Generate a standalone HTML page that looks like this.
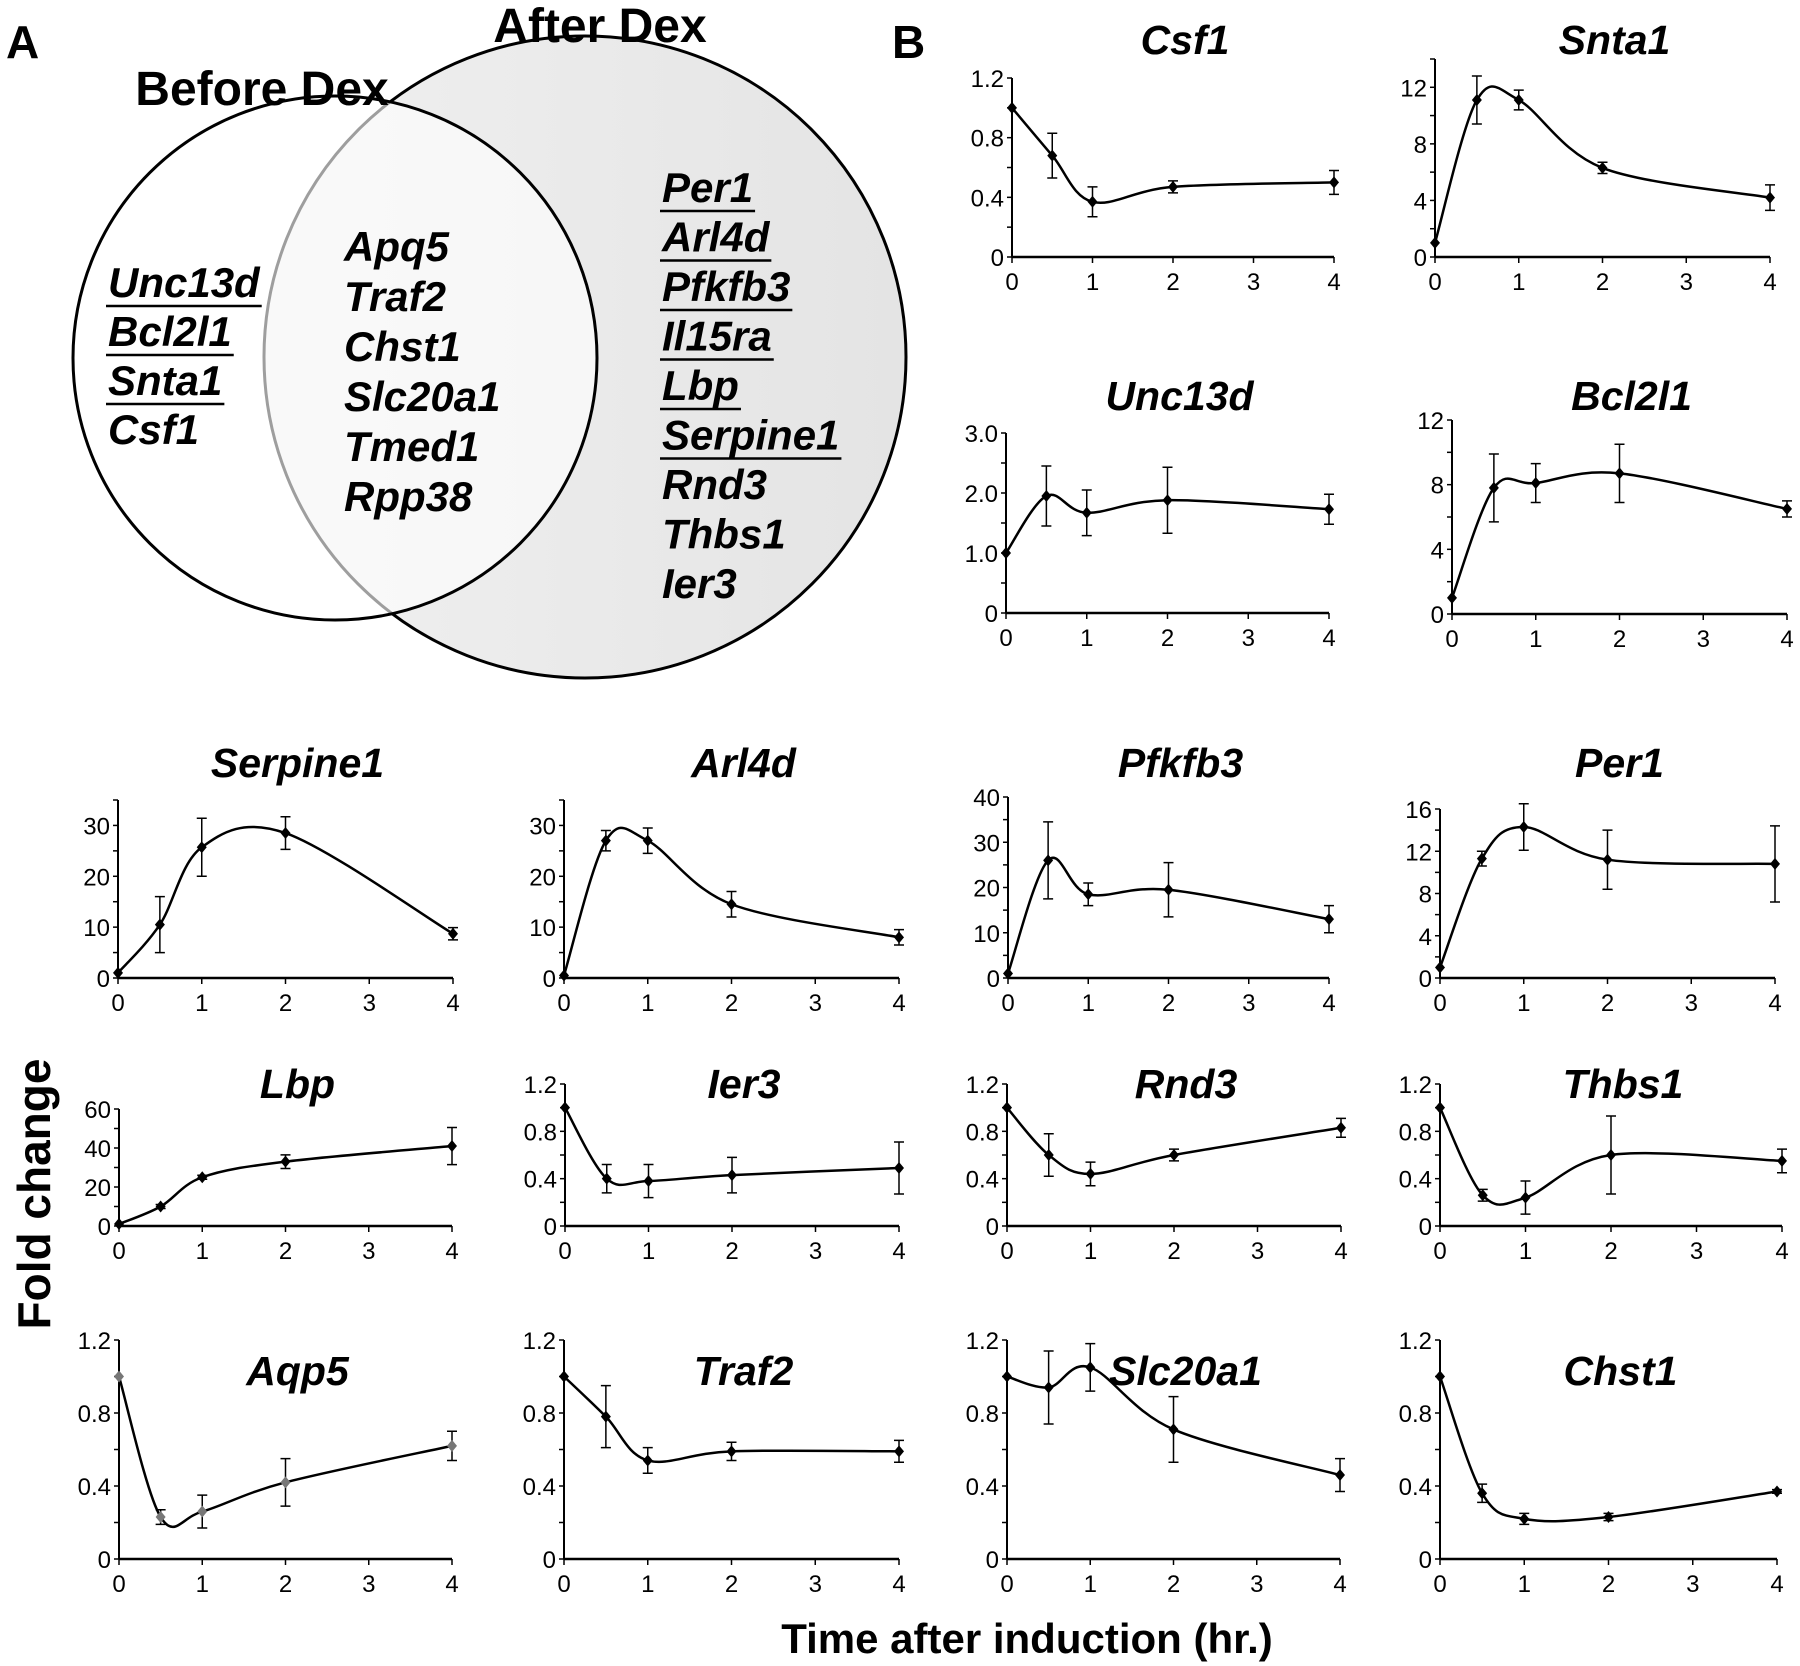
<!DOCTYPE html>
<html><head><meta charset="utf-8">
<style>
html,body{margin:0;padding:0;background:#fff;}
svg{display:block;}
text{font-family:"Liberation Sans",Arial,sans-serif;}
.t{font-weight:bold;font-style:italic;font-size:41px;}
.g{font-weight:bold;font-style:italic;font-size:42px;}
.tk{font-size:24px;}
</style></head>
<body>
<svg id="fig" width="1800" height="1666" viewBox="0 0 1800 1666" xmlns="http://www.w3.org/2000/svg">
<defs>
<linearGradient id="rg" x1="0" y1="0" x2="1" y2="0">
<stop offset="0" stop-color="#f0f0f0"/><stop offset="1" stop-color="#e4e4e4"/></linearGradient>
</defs>
<g>
<circle cx="585" cy="357" r="321" fill="url(#rg)" stroke="#000" stroke-width="3"/>
<circle cx="335" cy="358" r="262" fill="rgba(255,255,255,0.62)" stroke="none"/>
<circle cx="335" cy="358" r="262" fill="none" stroke="#000" stroke-width="3"/>
<text x="6" y="58" font-size="46" font-weight="bold">A</text>
<text x="892" y="58" font-size="46" font-weight="bold">B</text>
<text x="600" y="42" font-size="48" font-weight="bold" text-anchor="middle">After Dex</text>
<text x="262" y="105" font-size="48" font-weight="bold" text-anchor="middle">Before Dex</text>
</g>
<g id="venn-lists"></g>
<g id="charts"></g>
<text transform="translate(50,1194) rotate(-90)" font-size="46" font-weight="bold" text-anchor="middle">Fold change</text>
<text x="1027" y="1653" font-size="42" font-weight="bold" text-anchor="middle">Time after induction (hr.)</text>
</svg>
<script>
const NS="http://www.w3.org/2000/svg";
const timePoints=[0,0.5,1,2,4];
const xTicks=[0,1,2,3,4];
const leftGenes=["Unc13d","Bcl2l1","Snta1","Csf1"];
const leftUnder=[1,1,1,0];
const midGenes=["Apq5","Traf2","Chst1","Slc20a1","Tmed1","Rpp38"];
const rightGenes=["Per1","Arl4d","Pfkfb3","Il15ra","Lbp","Serpine1","Rnd3","Thbs1","Ier3"];
const rightUnder=[1,1,1,1,1,1,0,0,0];

const geneNames=["Csf1","Snta1","Unc13d","Bcl2l1","Serpine1","Arl4d","Pfkfb3","Per1","Lbp","Ier3","Rnd3","Thbs1","Aqp5","Traf2","Slc20a1","Chst1"];
const meanCsf1=[1,0.68,0.37,0.47,0.5];      const errCsf1=[0,0.15,0.1,0.04,0.08];
const meanSnta1=[1,11.1,11.1,6.3,4.2];      const errSnta1=[0,1.7,0.7,0.4,0.9];
const meanUnc13d=[1,1.95,1.67,1.88,1.73];   const errUnc13d=[0,0.5,0.38,0.55,0.25];
const meanBcl2l1=[1,7.8,8.1,8.7,6.5];       const errBcl2l1=[0,2.1,1.2,1.8,0.5];
const meanSerpine1=[1,10.5,25.7,28.5,8.7];  const errSerpine1=[0,5.5,5.7,3.2,1.2];
const meanArl4d=[0.5,27,27,14.5,8];         const errArl4d=[0,2,2.5,2.5,1.5];
const meanPfkfb3=[1,26,18.5,19.5,13];       const errPfkfb3=[0,8.5,2.5,6,3];
const meanPer1=[1,11.3,14.3,11.2,10.8];     const errPer1=[0,0.7,2.2,2.8,3.6];
const meanLbp=[1,10,25,33,41];              const errLbp=[0,1,1,3.5,9.5];
const meanIer3=[1,0.4,0.38,0.43,0.49];      const errIer3=[0,0.12,0.14,0.15,0.22];
const meanRnd3=[1,0.6,0.44,0.6,0.83];       const errRnd3=[0,0.18,0.1,0.05,0.08];
const meanThbs1=[1,0.26,0.24,0.6,0.55];     const errThbs1=[0,0.05,0.14,0.33,0.1];
const meanAqp5=[1,0.23,0.26,0.42,0.62];     const errAqp5=[0,0.04,0.09,0.13,0.08];
const meanTraf2=[1,0.78,0.54,0.59,0.59];    const errTraf2=[0,0.17,0.07,0.05,0.06];
const meanSlc20a1=[1,0.94,1.05,0.71,0.46];  const errSlc20a1=[0,0.2,0.13,0.18,0.09];
const meanChst1=[1,0.36,0.22,0.23,0.37];    const errChst1=[0,0.05,0.03,0.02,0.01];
const yTickSmall=[0,0.4,0.8,1.2];
const yTickUnc=[0,1,2,3];
const yTick12=[0,4,8,12];
const yTick30=[0,10,20,30];
const yTick40=[0,10,20,30,40];
const yTick16=[0,4,8,12,16];
const yTick60=[0,20,40,60];

const layout={
 Csf1:{x0:1012,x4:1334,y0:257,yt:78,ymax:1.2,minor:0.2,ticks:yTickSmall,dec:1,m:meanCsf1,e:errCsf1,ty:54},
 Snta1:{x0:1435,x4:1770,y0:257,yt:59,ymax:14,minor:2,ticks:yTick12,dec:0,m:meanSnta1,e:errSnta1,ty:54},
 Unc13d:{x0:1006,x4:1329,y0:613,yt:433,ymax:3,minor:0.5,ticks:yTickUnc,dec:1,m:meanUnc13d,e:errUnc13d,ty:410},
 Bcl2l1:{x0:1452,x4:1787,y0:614,yt:420,ymax:12,minor:2,ticks:yTick12,dec:0,m:meanBcl2l1,e:errBcl2l1,ty:410},
 Serpine1:{x0:118,x4:453,y0:978,yt:800,ymax:35,minor:5,ticks:yTick30,dec:0,m:meanSerpine1,e:errSerpine1,ty:777},
 Arl4d:{x0:564,x4:899,y0:978,yt:800,ymax:35,minor:5,ticks:yTick30,dec:0,m:meanArl4d,e:errArl4d,ty:777},
 Pfkfb3:{x0:1008,x4:1329,y0:978,yt:797,ymax:40,minor:5,ticks:yTick40,dec:0,m:meanPfkfb3,e:errPfkfb3,ty:777},
 Per1:{x0:1440,x4:1775,y0:978,yt:809,ymax:16,minor:2,ticks:yTick16,dec:0,m:meanPer1,e:errPer1,ty:777},
 Lbp:{x0:119,x4:452,y0:1226,yt:1109,ymax:60,minor:10,ticks:yTick60,dec:0,m:meanLbp,e:errLbp,ty:1098},
 Ier3:{x0:565,x4:899,y0:1226,yt:1084,ymax:1.2,minor:0.2,ticks:yTickSmall,dec:1,m:meanIer3,e:errIer3,ty:1098},
 Rnd3:{x0:1007,x4:1341,y0:1226,yt:1084,ymax:1.2,minor:0.2,ticks:yTickSmall,dec:1,m:meanRnd3,e:errRnd3,ty:1098},
 Thbs1:{x0:1440,x4:1782,y0:1226,yt:1084,ymax:1.2,minor:0.2,ticks:yTickSmall,dec:1,m:meanThbs1,e:errThbs1,ty:1098},
 Aqp5:{x0:119,x4:452,y0:1559,yt:1340,ymax:1.2,minor:0.2,ticks:yTickSmall,dec:1,m:meanAqp5,e:errAqp5,ty:1385,gray:1},
 Traf2:{x0:564,x4:899,y0:1559,yt:1340,ymax:1.2,minor:0.2,ticks:yTickSmall,dec:1,m:meanTraf2,e:errTraf2,ty:1385},
 Slc20a1:{x0:1007,x4:1340,y0:1559,yt:1340,ymax:1.2,minor:0.2,ticks:yTickSmall,dec:1,m:meanSlc20a1,e:errSlc20a1,ty:1385},
 Chst1:{x0:1440,x4:1777,y0:1559,yt:1340,ymax:1.2,minor:0.2,ticks:yTickSmall,dec:1,m:meanChst1,e:errChst1,ty:1385}
};

function mk(tag,attrs,parent){const el=document.createElementNS(NS,tag);for(const k in attrs)el.setAttribute(k,attrs[k]);parent.appendChild(el);return el;}

const vl=document.getElementById('venn-lists');
function list(arr,under,x,y0,step,name){
 arr.forEach((g,i)=>{
  const t=mk('text',{x:x,y:y0+i*step,class:'g'},vl);
  t.textContent=g;
  
  
  if(under&&under[i]){
   const w=t.getComputedTextLength();
   const u=mk('line',{x1:x-2,x2:x+w+2,y1:y0+i*step+9,y2:y0+i*step+9,stroke:'#000','stroke-width':2.5},vl);
   
   
  }
 });
}
list(leftGenes,leftUnder,108,297,49,'before-gene');
list(midGenes,null,344,261,50,'shared-gene');
list(rightGenes,rightUnder,662,202,49.5,'after-gene');

const cg=document.getElementById('charts');
function fmt(v,dec){return v===0?'0':v.toFixed(dec);}
geneNames.forEach(name=>{
 const L=layout[name];
 const g=mk('g',{},cg);
 
 
 const xs=t=>L.x0+(L.x4-L.x0)*t/4;
 const ys=v=>L.y0-(L.y0-L.yt)*v/L.ymax;
 const ya=mk('line',{x1:L.x0,x2:L.x0,y1:L.y0,y2:L.yt,stroke:'#000','stroke-width':2},g);
 
 const xa=mk('line',{x1:L.x0,x2:L.x4,y1:L.y0,y2:L.y0,stroke:'#000','stroke-width':2.5},g);
 
 for(let v=0;v<=L.ymax+1e-9;v+=L.minor){mk('line',{x1:L.x0-5,x2:L.x0,y1:ys(v),y2:ys(v),stroke:'#000','stroke-width':1.5},g);}
 L.ticks.forEach(v=>{
  const t=mk('text',{x:L.x0-8,y:ys(v)+9,'text-anchor':'end',class:'tk'},g);
  t.textContent=fmt(v,L.dec);
  
 });
 xTicks.forEach(v=>{
  mk('line',{x1:xs(v),x2:xs(v),y1:L.y0,y2:L.y0+6,stroke:'#000','stroke-width':1.5},g);
  const t=mk('text',{x:xs(v),y:L.y0+33,'text-anchor':'middle',class:'tk'},g);
  t.textContent=String(v);
  
 });
 const tt=mk('text',{x:(L.x0+L.x4)/2+12,y:L.ty,'text-anchor':'middle',class:'t'},g);
 tt.textContent=name;
 
 const P=timePoints.map((t,i)=>[xs(t),ys(L.m[i])]);
 let d='M'+P[0][0]+','+P[0][1];
 for(let i=0;i<P.length-1;i++){
  const p0=P[Math.max(0,i-1)],p1=P[i],p2=P[i+1],p3=P[Math.min(P.length-1,i+2)];
  const c1=[p1[0]+(p2[0]-p0[0])/6,p1[1]+(p2[1]-p0[1])/6];
  const c2=[p2[0]-(p3[0]-p1[0])/6,p2[1]-(p3[1]-p1[1])/6];
  d+=' C'+c1[0]+','+c1[1]+' '+c2[0]+','+c2[1]+' '+p2[0]+','+p2[1];
 }
 const ln=mk('path',{d:d,fill:'none',stroke:'#000','stroke-width':2.5},g);
 
 const col=L.gray?'#777':'#000';
 timePoints.forEach((t,i)=>{
  const x=xs(t),y=ys(L.m[i]),e=L.e[i];
  if(e>0){
   const eb=mk('path',{d:`M${x},${ys(L.m[i]+e)}V${ys(L.m[i]-e)}M${x-5},${ys(L.m[i]+e)}H${x+5}M${x-5},${ys(L.m[i]-e)}H${x+5}`,stroke:'#000','stroke-width':1.5,fill:'none'},g);
   
  }
  const mkr=mk('path',{d:`M${x},${y-6}L${x+5},${y}L${x},${y+6}L${x-5},${y}Z`,fill:col},g);
  
 });
});
</script>
</body></html>
